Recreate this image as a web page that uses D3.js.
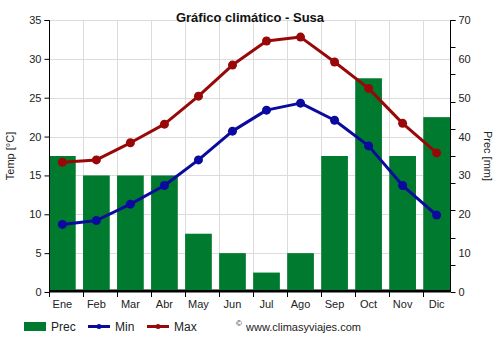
<!DOCTYPE html>
<html>
<head>
<meta charset="utf-8">
<script src="https://cdn.jsdelivr.net/npm/d3@7"></script>
<style>
  html, body { margin: 0; padding: 0; background: #fff; }
  svg { display: block; font-family: "Liberation Sans", Arial, sans-serif; }
</style>
</head>
<body>
<svg id="chart" width="500" height="350"></svg>
<script>
// Climate data for Susa
const months = ["Ene", "Feb", "Mar", "Abr", "May", "Jun", "Jul", "Ago", "Sep", "Oct", "Nov", "Dic"];
const precip = [35, 30, 30, 30, 15, 10, 5, 10, 35, 55, 35, 45];
const tempMin = [8.7, 9.2, 11.3, 13.7, 17.0, 20.7, 23.4, 24.3, 22.1, 18.8, 13.7, 9.9];
const tempMax = [16.7, 17.0, 19.2, 21.6, 25.2, 29.2, 32.3, 32.8, 29.6, 26.2, 21.7, 17.9];
const tempTicks = [0, 5, 10, 15, 20, 25, 30, 35];
const precLabels = [0, 10, 20, 30, 40, 50, 60, 70];
const precTickMarks = [0, 7, 14, 21, 28, 35, 42, 49, 56, 63, 70];

const svg = d3.select("#chart");
const pLeft = 49, pRight = 450, pTop = 20, pBottom = 292;

const x = d3.scaleBand().domain(months).range([pLeft, pRight]).paddingInner(0.215).paddingOuter(0);
const yT = d3.scaleLinear().domain([0, 35]).range([pBottom, pTop]);
const yP = d3.scaleLinear().domain([0, 70]).range([pBottom, pTop]);

const grid = svg.append("g").attr("stroke", "#dcdcdc").attr("stroke-width", 1);
// horizontal grid
grid.selectAll("line.h").data(tempTicks.slice(1)).join("line")
  .attr("x1", pLeft).attr("x2", pRight)
  .attr("y1", d => Math.round(yT(d)) + 0.5).attr("y2", d => Math.round(yT(d)) + 0.5);
// vertical grid at category starts
grid.selectAll("line.v").data(months.slice(1)).join("line")
  .attr("x1", d => Math.round(x(d)) + 0.5).attr("x2", d => Math.round(x(d)) + 0.5)
  .attr("y1", pTop).attr("y2", pBottom);

// baseline
svg.append("line").attr("x1", pLeft).attr("x2", pRight)
  .attr("y1", pBottom - 1).attr("y2", pBottom - 1)
  .attr("stroke", "#000").attr("stroke-width", 3);

// precipitation bars
svg.append("g").selectAll("rect").data(precip).join("rect")
  .attr("x", (d, i) => x(months[i]))
  .attr("width", x.bandwidth())
  .attr("y", d => yP(d))
  .attr("height", d => pBottom - 2 - yP(d))
  .attr("fill", "#007a2e");

// temperature lines
const cx = i => x(months[i]) + x.bandwidth() / 2;
function series(values, color) {
  const line = d3.line().x((d, i) => cx(i)).y(d => yT(d));
  svg.append("path").datum(values).attr("d", line)
    .attr("fill", "none").attr("stroke", color).attr("stroke-width", 3)
    .attr("stroke-linejoin", "round");
  svg.append("g").selectAll("circle").data(values).join("circle")
    .attr("cx", (d, i) => cx(i)).attr("cy", d => yT(d)).attr("r", 4.5)
    .attr("fill", color);
}
series(tempMin, "#0a0a9e");
series(tempMax, "#990808");

// left axis
const axL = svg.append("g").attr("transform", `translate(${pLeft + 0.5},0)`)
  .call(d3.axisLeft(yT).tickValues(tempTicks).tickSize(5).tickPadding(3));
// right axis: labels every 10 mm, marks every 7 mm
const axR = svg.append("g").attr("transform", `translate(${pRight + 0.5},0)`)
  .call(d3.axisRight(yP).tickValues(precLabels).tickSize(0).tickPadding(8));
axR.selectAll(".tick line").remove();
axR.selectAll("line.m").data(precTickMarks).join("line")
  .attr("x1", 0).attr("x2", 5)
  .attr("y1", d => Math.round(yP(d)) + 0.5).attr("y2", d => Math.round(yP(d)) + 0.5)
  .attr("stroke", "#000");
// bottom axis ticks at category starts
const axB = svg.append("g");
axB.selectAll("line").data(months).join("line")
  .attr("x1", d => Math.round(x(d)) + 0.5).attr("x2", d => Math.round(x(d)) + 0.5)
  .attr("y1", pBottom).attr("y2", pBottom + 5).attr("stroke", "#000");
axB.selectAll("text").data(months).join("text")
  .attr("x", (d, i) => cx(i)).attr("y", pBottom + 16)
  .attr("text-anchor", "middle").attr("font-size", 11).attr("fill", "#222")
  .text(d => d);

[axL, axR].forEach(a => {
  a.select(".domain").attr("stroke", "#000");
  a.selectAll("text").attr("font-size", 11).attr("fill", "#222")
    .attr("font-family", "Liberation Sans, Arial, sans-serif");
  a.selectAll(".tick line").attr("stroke", "#000");
});
axL.select(".domain").attr("d", `M-5,${pTop}.5H0V${pBottom}`);
axR.select(".domain").attr("d", `M5,${pTop}.5H0V${pBottom}`);

// titles
svg.append("text").attr("x", 250).attr("y", 22).attr("text-anchor", "middle")
  .attr("font-size", 13).attr("font-weight", "bold").attr("fill", "#111")
  .text("Gráfico climático - Susa");
svg.append("text").attr("transform", `translate(14,${(pTop + pBottom) / 2}) rotate(-90)`)
  .attr("text-anchor", "middle").attr("font-size", 11).attr("fill", "#222")
  .text("Temp [°C]");
svg.append("text").attr("transform", `translate(484,${(pTop + pBottom) / 2}) rotate(90)`)
  .attr("text-anchor", "middle").attr("font-size", 11).attr("fill", "#222")
  .text("Prec [mm]");

// legend
const lg = svg.append("g").attr("font-size", 12).attr("fill", "#222");
lg.append("rect").attr("x", 24).attr("y", 322).attr("width", 22).attr("height", 9).attr("fill", "#007a2e");
lg.append("text").attr("x", 51).attr("y", 331).text("Prec");
[["Min", "#0a0a9e", 88], ["Max", "#990808", 147]].forEach(([name, color, x0]) => {
  lg.append("line").attr("x1", x0).attr("x2", x0 + 22).attr("y1", 326.5).attr("y2", 326.5)
    .attr("stroke", color).attr("stroke-width", 3);
  lg.append("circle").attr("cx", x0 + 11).attr("cy", 326.5).attr("r", 2.5).attr("fill", color);
  lg.append("text").attr("x", x0 + 27).attr("y", 331).text(name);
});
lg.append("text").attr("x", 236).attr("y", 326).attr("font-size", 8).text("©");
lg.append("text").attr("x", 246).attr("y", 331).attr("font-size", 11).text("www.climasyviajes.com");
</script>
</body>
</html>
